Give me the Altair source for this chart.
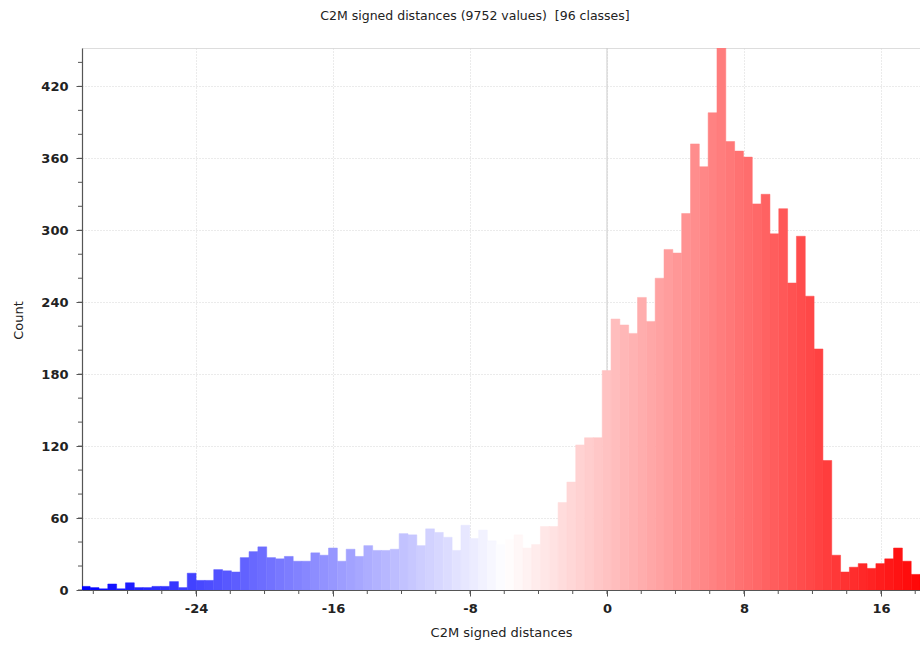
import altair as alt
import pandas as pd

# Histogram of C2M signed distances: 96 classes of equal width
BIN_MIN = -30.70
BIN_WIDTH = 0.5156
N_VALUES = 9752

counts = [
    3, 2, 1, 5, 1, 6, 2, 2, 3, 3, 7, 2, 14, 8, 8, 17, 16, 15, 27, 32,
    36, 27, 26, 28, 24, 24, 31, 29, 35, 24, 34, 28, 37, 33, 33, 34, 47, 46, 37, 51,
    48, 44, 33, 54, 43, 50, 41, 38, 42, 46, 35, 38, 53, 53, 73, 90, 121, 127, 127, 183,
    226, 221, 214, 244, 224, 260, 284, 281, 314, 372, 353, 398, 452, 374, 366, 361, 322, 330, 297, 318,
    256, 295, 245, 201, 108, 29, 15, 19, 22, 18, 22, 26, 35, 24, 13, 12,
]

x_major = [-24, -16, -8, 0, 8, 16]
x_minor = list(range(-30, 19, 2))
y_major = [0, 60, 120, 180, 240, 300, 360, 420]
y_minor = list(range(0, 441, 20))

n_bins = len(counts)
starts = [BIN_MIN + i * BIN_WIDTH for i in range(n_bins)]
bins = pd.DataFrame({
    "start": starts,
    "end": [s + BIN_WIDTH for s in starts],
    "center": [s + BIN_WIDTH / 2 for s in starts],
    "count": counts,
    "base": [0] * n_bins,
})
bin_max = BIN_MIN + n_bins * BIN_WIDTH

FONT = "DejaVu Sans"
TEXT = "#222222"
AXIS = "#555555"
GRID = "#d6d6d6"

x_scale = alt.Scale(domain=[-30.66, 18.28], nice=False, zero=False)
y_scale = alt.Scale(domain=[0, 452], nice=False, zero=True)
color_scale = alt.Scale(
    domain=[BIN_MIN, (BIN_MIN + bin_max) / 2, bin_max],
    range=["#0000ff", "#ffffff", "#ff0000"],
    interpolate="rgb",
)

x_axis = alt.Axis(
    values=x_major, title="C2M signed distances", grid=True,
    gridDash=[1, 2], gridColor=GRID, gridWidth=1,
    domainColor=AXIS, domainWidth=1.2, tickColor=AXIS, tickSize=6,
    labelFont=FONT, labelFontSize=13, labelFontWeight="bold", labelColor=TEXT,
    labelPadding=6, labelExpr="replace(datum.label, '\u2212', '-')",
    titleFont=FONT, titleFontSize=13, titleFontWeight="normal",
    titleColor=TEXT, titleY=46, titleBaseline="alphabetic",
)
y_axis = alt.Axis(
    values=y_major, title="Count", grid=True,
    gridDash=[1, 2], gridColor=GRID, gridWidth=1,
    domainColor=AXIS, domainWidth=1.2, tickColor=AXIS, tickSize=6,
    labelFont=FONT, labelFontSize=13, labelFontWeight="bold", labelColor=TEXT,
    labelPadding=8, titleFont=FONT, titleFontSize=13, titleFontWeight="normal",
    titleColor=TEXT, titleX=-60, titleY=272, titleBaseline="alphabetic",
    titleAlign="center", titleAngle=-90,
)

# Solid reference line at zero distance, drawn beneath the bars
zero_line = alt.Chart(pd.DataFrame({"v": [0]})).mark_rule(
    color="#cccccc", strokeWidth=1
).encode(
    x=alt.X("v:Q", scale=x_scale, axis=x_axis),
    y=alt.value(0),
    y2=alt.value(542),
)

bars = alt.Chart(bins).mark_rect(clip=True, strokeWidth=0.5).encode(
    x=alt.X("start:Q", scale=x_scale, axis=x_axis),
    x2="end:Q",
    y=alt.Y("count:Q", scale=y_scale, axis=y_axis),
    y2="base:Q",
    color=alt.Color("center:Q", scale=color_scale, legend=None),
    stroke=alt.Stroke("center:Q", scale=color_scale, legend=None),
)

# Minor ticks on both axes
x_minor_ticks = alt.Chart(pd.DataFrame({"v": x_minor})).mark_rule(
    color=AXIS, strokeWidth=1
).encode(
    x=alt.X("v:Q", scale=x_scale, axis=x_axis),
    y=alt.value(542),
    y2=alt.value(546),
)
y_minor_ticks = alt.Chart(pd.DataFrame({"v": y_minor})).mark_rule(
    color=AXIS, strokeWidth=1
).encode(
    y=alt.Y("v:Q", scale=y_scale, axis=y_axis),
    x=alt.value(-4),
    x2=alt.value(0),
)

chart = alt.layer(zero_line, bars, x_minor_ticks, y_minor_ticks).properties(
    width=838,
    height=542,
    title=alt.TitleParams(
        text=f"C2M signed distances ({N_VALUES} values)\u00a0 [{n_bins} classes]",
        font=FONT, fontSize=12.5, fontWeight="normal", color=TEXT,
        anchor="middle", dx=-26, offset=15, baseline="alphabetic",
    ),
    autosize=alt.AutoSizeParams(type="none"),
    padding={"left": 82, "top": 48, "right": 0, "bottom": 55},
).configure_view(stroke=None).configure(background="white")

chart.save("out.html", embed_options={"renderer": "svg", "actions": False})
